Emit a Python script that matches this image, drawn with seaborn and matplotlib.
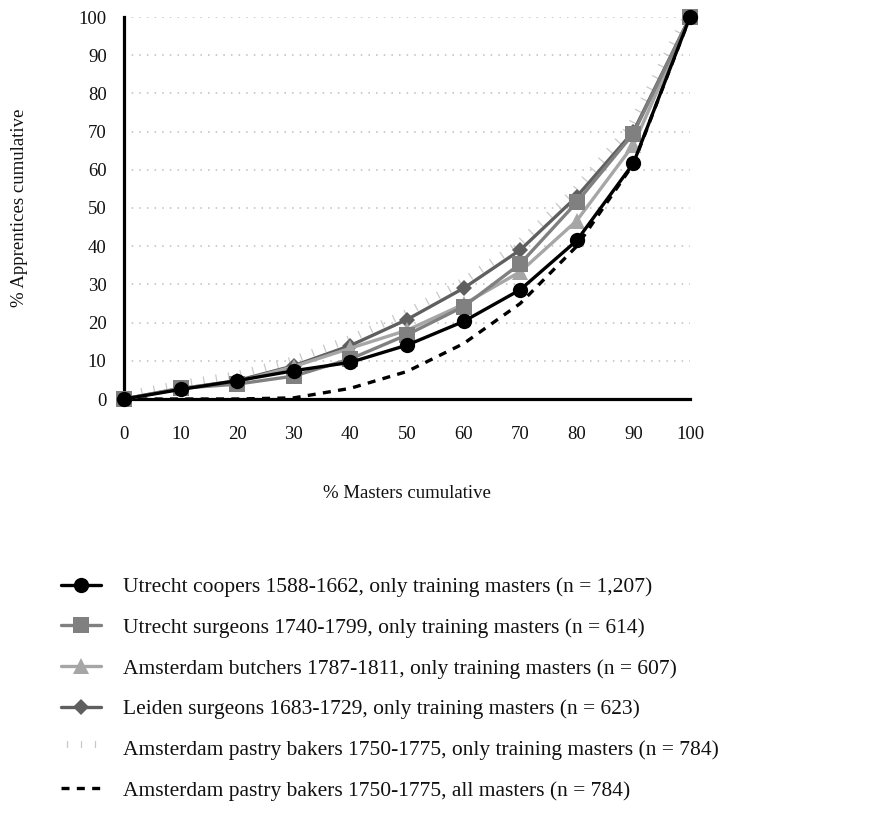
import matplotlib
matplotlib.use("Agg")
import matplotlib.pyplot as plt
import matplotlib.patheffects as pe
import seaborn as sns
import pandas as pd

# ---- data ----
masters_pct = [0, 10, 20, 30, 40, 50, 60, 70, 80, 90, 100]
utrecht_coopers = [0, 2.5, 4.8, 7.4, 9.6, 14.1, 20.3, 28.6, 41.5, 61.7, 100]
utrecht_surgeons = [0, 2.8, 3.9, 6.0, 10.5, 16.8, 24.2, 35.4, 51.5, 69.5, 100]
amsterdam_butchers = [0, 2.8, 4.5, 8.5, 13.3, 18.0, 24.8, 33.3, 46.7, 66.5, 100]
leiden_surgeons = [0, 2.7, 4.8, 8.7, 14.0, 20.8, 29.0, 39.0, 53.0, 70.0, 100]
pastry_training = [0, 3.0, 5.4, 9.3, 14.8, 21.6, 29.8, 39.8, 53.8, 70.8, 100]
pastry_all = [0, 0, 0, 0.3, 2.8, 7.2, 14.5, 25.0, 40.0, 61.5, 100]

labels = [
    "Utrecht coopers 1588-1662, only training masters (n = 1,207)",
    "Utrecht surgeons 1740-1799, only training masters (n = 614)",
    "Amsterdam butchers 1787-1811, only training masters (n = 607)",
    "Leiden surgeons 1683-1729, only training masters (n = 623)",
    "Amsterdam pastry bakers 1750-1775, only training masters (n = 784)",
    "Amsterdam pastry bakers 1750-1775, all masters (n = 784)",
]
x_ticks = [0, 10, 20, 30, 40, 50, 60, 70, 80, 90, 100]
y_ticks = [0, 10, 20, 30, 40, 50, 60, 70, 80, 90, 100]

sns.set_style("white")
plt.rcParams["font.family"] = ["Liberation Serif", "DejaVu Serif"]

fig = plt.figure(figsize=(8.83, 8.24), dpi=100)
ax = fig.add_axes([124 / 883, 1 - 399 / 824, 566 / 883, 382 / 824])

def df_for(vals):
    return pd.DataFrame({"x": masters_pct, "y": vals})

common = dict(clip_on=False, estimator=None, sort=False)

# pastry bakers, only training masters: light ticks
sns.lineplot(data=df_for(pastry_training), x="x", y="y", ax=ax, color="#c8c8c8",
             lw=0.9, label=labels[4], zorder=2,
             path_effects=[pe.TickedStroke(spacing=9, length=0.55, angle=90)],
             **common)
# pastry bakers, all masters: dashed black
sns.lineplot(data=df_for(pastry_all), x="x", y="y", ax=ax, color="black",
             lw=2.4, linestyle=(0, (2.4, 2.2)), label=labels[5], zorder=3, **common)
# Leiden surgeons: dark gray diamonds
sns.lineplot(data=df_for(leiden_surgeons), x="x", y="y", ax=ax, color="#5f5f5f",
             lw=2.4, marker="D", markersize=8, markeredgecolor="#5f5f5f",
             markeredgewidth=0, label=labels[3], zorder=4, **common)
# Amsterdam butchers: light gray triangles
sns.lineplot(data=df_for(amsterdam_butchers), x="x", y="y", ax=ax, color="#a6a6a6",
             lw=2.4, marker="^", markersize=11, markeredgecolor="#a6a6a6",
             markeredgewidth=0, label=labels[2], zorder=5, **common)
# Utrecht surgeons: gray squares
sns.lineplot(data=df_for(utrecht_surgeons), x="x", y="y", ax=ax, color="#808080",
             lw=2.4, marker="s", markersize=11, markeredgecolor="#808080",
             markeredgewidth=0, label=labels[1], zorder=6, **common)
# Utrecht coopers: black circles
sns.lineplot(data=df_for(utrecht_coopers), x="x", y="y", ax=ax, color="black",
             lw=2.4, marker="o", markersize=11, markeredgecolor="black",
             markeredgewidth=0, label=labels[0], zorder=7, **common)

ax.set_xlim(0, 100)
ax.set_ylim(0, 100)
ax.set_xticks(x_ticks)
ax.set_yticks(y_ticks)
ax.set_xticklabels([str(v) for v in x_ticks])
ax.set_yticklabels([str(v) for v in y_ticks])

ax.yaxis.grid(True, linestyle=(0, (1, 4)), color="#bdbdbd", lw=1.1)
ax.xaxis.grid(False)
ax.set_axisbelow(True)

for s in ["top", "right"]:
    ax.spines[s].set_visible(False)
for s in ["left", "bottom"]:
    ax.spines[s].set_linewidth(2.3)
    ax.spines[s].set_color("black")
    ax.spines[s].set_zorder(1)

ax.tick_params(axis="both", which="major", direction="out", length=6.5,
               width=2.2, color="black", labelsize=13.5, labelcolor="#111111")
ax.tick_params(axis="x", pad=13)
ax.tick_params(axis="y", pad=6)

ax.set_xlabel("% Masters cumulative", fontsize=13.5, color="#111111")
ax.set_ylabel("% Apprentices cumulative", fontsize=13.5, color="#111111")
ax.xaxis.set_label_coords(0.5, -0.225)
ax.yaxis.set_label_coords(-0.17, 0.5)

# legend below the plot
handles, lbls = ax.get_legend_handles_labels()
order = [lbls.index(l) for l in labels]
handles = [handles[i] for i in order]
ax.get_legend().remove()
fig.legend(handles, labels, loc="upper left", bbox_to_anchor=(61 / 883, 1 - 577 / 824),
           frameon=False, fontsize=15.5, handlelength=1.86, handletextpad=1.0,
           labelspacing=0.96, borderpad=0, borderaxespad=0, labelcolor="#111111")

fig.savefig("out.png", dpi=100)
